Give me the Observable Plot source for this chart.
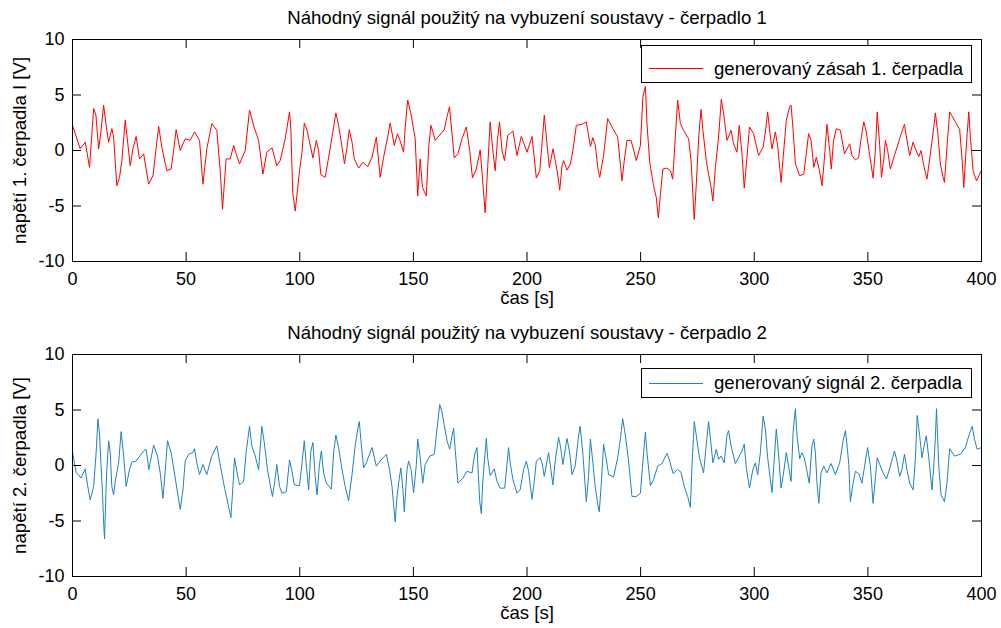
<!DOCTYPE html>
<html>
<head>
<meta charset="utf-8">
<script src="https://cdn.jsdelivr.net/npm/d3@7"></script>
<script src="https://cdn.jsdelivr.net/npm/@observablehq/plot@0.6"></script>
<style>
  html, body { margin: 0; padding: 0; background: #fff; }
  #wrap { position: relative; width: 1001px; height: 628px; font-family: "Liberation Sans", Arial, sans-serif; }
  .panel { position: absolute; left: 0; }
  .legend { position: absolute; background: #fff; border: 1px solid #000; box-sizing: border-box;
            font-size: 18.6px; display: flex; align-items: center; }
  .legend .swatch { width: 54px; height: 0; border-top: 1px solid; margin-left: 7px; margin-right: 11px; }
</style>
</head>
<body>
<div id="wrap"></div>
<script>
// ---------- data ----------
const titles = ["Náhodný signál použitý na vybuzení soustavy - čerpadlo 1",
                "Náhodný signál použitý na vybuzení soustavy - čerpadlo 2"];
const yLabels = ["napětí 1. čerpadla I [V]", "napětí 2. čerpadla [V]"];
const xLabel = "čas [s]";
const legendLabels = ["generovaný zásah 1. čerpadla", "generovaný signál 2. čerpadla"];
const xTicks = [0, 50, 100, 150, 200, 250, 300, 350, 400];
const yTicks = [-10, -5, 0, 5, 10];

// pump 1 signal: time [s]
const t1 = [0.0,3.4,5.6,7.5,9.3,10.3,11.5,12.5,13.7,14.8,15.9,17.3,18.1,19.5,20.7,21.7,23.2,25.4,26.6,28.0,29.5,31.3,33.5,35.4,37.9,39.3,41.5,43.4,44.5,45.6,47.4,49.6,51.8,53.7,55.9,57.4,59.1,61.3,63.5,65.0,66.0,67.6,69.4,70.9,72.0,73.5,76.0,77.9,79.9,81.9,83.8,85.5,87.8,89.9,91.4,93.6,95.5,96.1,96.9,98.0,99.9,
  101.0,102.0,103.2,104.3,105.8,107.3,108.3,109.3,111.2,112.7,114.2,115.9,117.1,118.6,119.7,120.8,121.8,123.0,124.0,125.9,127.8,129.9,131.8,133.7,135.4,136.9,138.7,139.8,141.6,143.0,144.2,145.7,146.4,147.5,148.9,150.8,151.9,153.0,154.0,155.7,156.7,157.7,158.6,159.6,163.6,164.8,165.9,167.0,168.0,169.6,171.4,173.3,174.8,176.0,177.7,179.4,180.5,181.6,182.7,183.8,184.9,186.0,187.0,187.9,189.0,190.1,191.5,193.8,195.6,197.5,198.8,200.0,
  202.2,203.2,204.1,205.6,206.6,207.6,208.8,209.8,210.6,211.4,212.5,213.5,214.4,215.4,216.1,217.6,219.1,220.2,221.7,224.2,226.1,227.9,229.0,230.1,231.1,232.0,233.7,235.5,237.8,239.9,241.8,242.8,244.0,245.8,248.1,249.9,251.0,252.1,252.8,254.0,255.7,256.9,257.8,258.7,259.8,261.6,263.1,264.1,264.5,265.3,266.3,267.5,268.9,271.1,272.2,273.3,273.6,274.5,275.6,276.6,277.4,278.9,279.9,280.9,281.8,282.9,284.3,285.5,286.5,288.0,289.8,290.9,292.4,293.4,294.6,295.6,296.8,297.9,299.7,
  301.9,303.9,304.9,305.9,307.1,307.8,309.3,310.3,311.8,312.8,314.1,315.6,316.2,317.1,318.1,320.0,321.8,322.9,323.9,325.0,326.2,327.3,328.7,329.8,330.8,332.0,333.2,333.9,334.9,336.1,337.9,339.7,342.0,343.0,344.5,345.9,346.9,348.2,349.3,350.8,352.3,353.3,354.1,355.2,356.0,357.0,357.7,358.7,359.9,361.7,364.3,366.1,367.2,368.4,369.9,370.9,372.4,373.4,374.6,376.0,377.5,379.0,379.7,380.8,381.9,383.1,383.7,384.8,386.0,388.1,390.4,391.5,392.2,393.0,393.7,394.4,395.1,396.3,397.8,400.0];
// pump 1 signal: voltage [V]
const v1 = [2.27,0.15,0.76,-1.52,3.79,3.18,0.15,1.67,4.09,2.27,0.76,1.97,1.21,-3.18,-2.42,-0.91,2.73,-1.36,0.15,1.27,-0.76,-0.30,-3.03,-2.27,2.18,0.30,-1.82,-1.67,0.0,1.88,0.0,1.06,0.91,1.67,0.91,-3.03,0.15,2.42,1.82,-1.82,-5.3,-0.76,-0.76,0.45,-0.30,-1.21,0.0,3.64,2.12,0.91,-2.12,-0.15,0.24,-1.36,-0.91,1.06,3.48,1.82,-3.79,-5.45,-1.82,
  -0.15,2.48,1.82,0.76,-0.67,0.91,0.0,-2.18,-2.42,-0.61,1.21,3.39,2.27,0.30,-1.21,0.30,1.88,0.76,-0.76,-1.58,-1.06,-1.45,-0.61,1.21,-2.42,-0.61,1.21,2.48,0.45,1.52,0.85,-0.15,2.12,4.55,3.33,1.06,-4.09,-0.76,-3.33,-4.09,0.15,2.27,1.67,0.91,1.88,3.03,3.94,1.52,-0.67,-0.30,1.06,2.12,0.0,-2.48,-1.67,0.06,-2.73,-5.61,-1.52,2.58,0.15,-1.82,0.91,2.58,0.0,-0.91,1.36,1.76,-0.45,1.27,0.55,-0.15,
  1.27,-0.67,-2.48,-1.82,0.61,3.18,0.61,-1.52,-0.76,0.15,-0.97,-2.12,-3.58,-1.36,-0.91,-1.76,-1.21,0.0,2.27,2.36,2.58,0.36,1.15,0.45,-1.52,-2.42,-0.45,2.88,1.97,1.21,-2.73,-0.91,0.91,0.91,-0.91,0.45,4.85,5.76,2.42,-1.06,-3.18,-4.24,-6.06,-3.94,-1.67,-1.58,-1.82,-2.58,-1.36,1.36,4.55,2.42,1.82,1.06,-0.91,-5.15,-6.21,-3.03,1.36,3.70,1.82,-0.91,-2.12,-3.18,-4.55,-1.52,1.21,4.61,3.33,0.91,1.82,0.61,-0.15,2.27,-0.30,-3.39,-0.61,2.12,1.52,
  -0.45,0.30,1.67,3.48,1.21,0.15,1.67,0.45,-2.88,-0.45,2.73,3.94,4.09,1.82,-1.21,-2.27,-2.12,-0.30,1.52,0.91,-1.52,-0.61,-1.82,-3.18,-0.91,2.36,0.0,-1.67,0.91,1.97,1.82,-0.30,0.61,-0.45,-0.85,-0.67,0.91,2.58,1.67,-0.45,-2.48,0.0,3.48,0.45,-2.42,-0.76,0.91,0.0,-1.67,-0.45,1.27,2.36,0.91,-0.45,0.76,0.15,-0.55,0.0,-1.36,-2.58,-0.30,2.12,3.39,1.52,-1.21,-2.42,-2.88,0.30,3.48,2.73,1.88,-0.91,-3.33,-0.61,1.52,3.48,1.21,-1.82,-2.73,-1.76];

// pump 2 signal: time [s]
const t2 = [0.0,1.6,3.7,5.6,6.6,7.8,9.3,10.4,11.2,11.9,12.5,13.2,13.7,14.1,14.7,15.1,15.9,16.6,17.3,18.1,18.8,20.3,21.4,22.5,23.6,25.1,26.1,28.0,31.3,32.4,33.6,35.7,37.4,38.6,39.8,40.8,41.8,43.4,45.2,47.4,48.6,49.6,51.1,53.0,53.7,54.7,55.9,57.4,59.1,61.3,63.5,64.7,66.5,67.9,69.7,70.6,71.3,72.3,73.5,75.3,76.4,77.9,78.9,80.4,81.9,83.3,84.4,85.8,87.0,88.0,89.2,89.9,91.1,92.2,94.1,95.5,96.6,97.6,99.9,
  101.0,102.0,102.8,103.9,104.9,105.8,106.8,107.6,108.6,109.5,110.5,111.7,113.9,114.9,115.9,117.1,118.6,120.0,121.5,123.0,124.4,125.5,126.2,127.0,128.1,129.3,131.8,133.7,135.4,138.1,139.5,140.6,142.0,142.8,143.8,144.5,145.4,146.0,147.2,147.9,149.0,150.1,151.3,151.9,153.0,154.1,155.2,157.2,159.2,160.4,161.6,162.6,163.6,164.8,166.0,167.0,167.7,168.4,169.6,171.8,173.6,175.8,176.5,177.2,178.0,179.2,179.9,180.6,182.1,182.7,183.8,185.6,186.8,188.2,190.2,191.9,192.6,193.8,195.6,197.0,198.5,199.7,200.7,
  202.2,203.2,204.1,205.8,206.6,207.6,208.8,209.5,210.5,211.4,212.5,213.9,214.7,215.8,217.6,218.8,219.8,221.2,222.7,223.4,224.6,226.1,227.1,227.9,229.0,230.0,231.1,231.8,232.7,233.7,234.9,235.9,238.1,239.9,241.1,242.1,243.3,244.7,246.2,248.1,249.9,251.3,252.1,252.8,254.3,255.7,257.5,259.4,261.6,262.8,264.3,266.3,267.8,269.2,270.7,271.9,272.6,273.6,274.5,275.9,277.7,278.9,279.9,280.9,281.8,283.3,284.3,285.4,286.8,288.0,288.7,289.8,291.7,294.6,295.6,296.5,297.9,299.4,300.5,301.5,302.7,
  303.9,304.9,305.9,307.1,307.8,308.8,309.7,310.7,311.8,312.9,314.1,315.1,316.2,317.1,318.1,318.8,320.0,321.0,322.0,323.2,324.2,325.4,326.2,326.9,327.6,328.4,329.4,330.6,332.0,333.8,335.7,337.6,339.1,340.1,340.8,341.6,342.3,343.5,344.5,346.0,347.4,348.9,349.9,351.1,352.3,353.3,354.1,355.2,356.7,358.2,359.9,361.7,362.8,364.0,365.0,366.1,367.2,368.4,369.9,370.9,371.7,372.8,373.8,374.9,375.7,376.8,378.2,379.0,379.7,380.2,381.2,382.2,383.7,384.8,386.0,388.1,390.7,392.9,394.4,395.9,396.9,398.1,400.0];
// pump 2 signal: voltage [V]
const v2 = [1.22,-0.61,-1.13,-0.30,-1.74,-3.11,-1.89,1.16,4.21,2.84,0.24,-2.50,-5.09,-6.62,-2.50,-0.37,2.23,1.16,-1.89,-2.65,-1.43,0.24,3.05,0.85,-1.89,-0.37,0.30,0.40,1.31,1.46,-0.37,1.83,0.85,-0.67,-2.96,-0.52,2.23,1.16,-1.13,-3.96,-2.20,0.40,1.01,1.16,1.52,0.24,-0.82,0.09,-0.82,0.85,1.77,0.40,-1.59,-2.96,-4.70,-1.89,0.70,-0.52,-1.74,-1.43,1.16,3.54,1.77,0.85,-0.37,3.54,2.07,-0.37,-1.74,-2.80,-1.13,0.09,-1.89,-2.50,-2.35,0.49,-0.52,-1.74,-1.83,
  0.24,2.23,0.24,-2.20,1.31,2.07,-0.98,-2.65,-0.06,1.31,-0.67,-1.59,-2.13,1.16,2.74,1.62,-0.37,-1.89,-3.17,-0.82,1.77,3.29,3.96,2.07,-0.21,0.24,1.62,-0.06,0.40,1.01,-0.37,-1.89,-5.09,-2.80,-1.13,-0.21,-2.20,-4.18,-0.37,0.40,-0.37,-2.44,0.09,2.38,0.70,-1.59,0.09,0.85,1.01,3.29,5.49,4.82,3.60,2.23,1.46,2.68,3.35,1.46,-1.59,-1.13,-0.52,-0.67,0.40,1.16,1.62,-3.26,-4.33,-1.28,2.44,0.70,-0.91,-0.30,-1.43,-2.04,-2.04,1.62,0.24,-1.28,-2.50,-2.20,-0.37,0.40,-0.52,
  -3.05,-1.43,0.40,0.70,0.24,-0.98,0.40,1.16,-0.37,-1.74,0.55,2.53,1.77,0.09,2.44,1.16,-0.82,-0.06,2.68,3.54,1.01,-3.26,-0.98,2.38,0.24,-1.89,-3.41,-4.18,-1.59,1.92,0.55,-0.82,-1.04,0.70,2.38,4.21,2.68,0.40,-2.80,-2.80,-2.50,1.16,2.99,1.16,-1.83,-1.28,-0.06,0.18,1.10,0.40,-0.73,-0.37,-0.61,-1.89,-2.80,-3.78,-0.06,3.96,2.68,0.70,-0.67,1.92,3.96,2.07,0.24,1.46,0.55,0.85,0.24,2.74,3.14,1.77,0.18,1.31,1.92,-0.21,-2.04,-0.37,0.24,-0.82,1.16,
  4.45,3.29,0.70,-1.28,-2.44,0.55,3.29,1.01,-2.04,-0.67,1.16,-0.06,-1.43,2.99,5.12,2.68,0.61,1.16,0.70,-0.52,-1.59,1.77,2.38,1.16,-1.59,-3.41,-0.67,-0.06,-0.67,0.18,-0.82,0.24,2.23,3.14,1.92,0.09,-3.26,-1.59,-0.52,-0.73,-1.59,0.40,1.62,-0.06,-3.41,-1.13,0.70,0.09,-0.67,-1.22,-0.06,1.31,0.40,-0.98,-0.37,1.01,-0.37,-1.59,-2.20,0.55,4.51,2.68,0.70,1.92,2.68,0.70,-2.20,-0.06,2.53,5.12,-0.06,-2.65,-3.26,-1.59,1.52,0.85,1.01,1.62,2.68,3.54,2.38,1.46,1.62];

const colors = ["#ff0000", "#1f82be"];
const series = [
  {t: t1, v: v1},
  {t: t2, v: v2}
];

// ---------- layout ----------
const W = 1001, H = 314;
const layouts = [
  {top: 0, mt: 39, mb: 53, lgTop: 45, lgH: 38, lgPad: 9},
  {top: 314, mt: 40, mb: 52, lgTop: 368, lgH: 30, lgPad: 0}
];
const ML = 72, MR = 20, TICK = 9, FS = 18, FS2 = 18.6;
const wrap = document.getElementById("wrap");

series.forEach((s, i) => {
  const L = layouts[i];
  const data = s.t.map((t, k) => ({t, v: s.v[k]}));
  const innerH = H - L.mt - L.mb;
  const innerW = W - ML - MR;
  const chart = Plot.plot({
    width: W, height: H,
    marginLeft: ML, marginRight: MR, marginTop: L.mt, marginBottom: L.mb,
    style: {fontFamily: "'Liberation Sans', Arial, sans-serif", fontSize: FS + "px", background: "#fff", color: "#000"},
    x: {domain: [0, 400]},
    y: {domain: [-10, 10]},
    marks: [
      Plot.line(data, {x: "t", y: "v", stroke: colors[i], strokeWidth: 1}),
      Plot.tickX(xTicks, {x: d => d, insetTop: innerH - TICK, stroke: "#000"}),
      Plot.tickX(xTicks, {x: d => d, insetBottom: innerH - TICK, stroke: "#000"}),
      Plot.tickY(yTicks, {y: d => d, insetRight: innerW - TICK, stroke: "#000"}),
      Plot.tickY(yTicks, {y: d => d, insetLeft: innerW - TICK, stroke: "#000"}),
      Plot.frame({stroke: "#000"}),
      Plot.axisX(xTicks, {tickSize: 0, tickPadding: 11, tickFormat: d => String(d), label: null, fill: "#000"}),
      Plot.axisY(yTicks, {tickSize: 0, tickPadding: 8, tickFormat: d => String(d), label: null, fill: "#000"}),
      Plot.text([xLabel], {frameAnchor: "bottom", dy: 37, lineAnchor: "middle", fill: "#000", fontSize: FS2}),
      Plot.text([titles[i]], {frameAnchor: "top", dy: -21, lineAnchor: "middle", fill: "#000", fontSize: FS2}),
      Plot.text([yLabels[i]], {frameAnchor: "left", dx: -52, rotate: -90, textAnchor: "middle", lineAnchor: "middle", fill: "#000", fontSize: FS2})
    ]
  });
  const div = document.createElement("div");
  div.className = "panel";
  div.style.top = L.top + "px";
  div.appendChild(chart);
  wrap.appendChild(div);

  const lg = document.createElement("div");
  lg.className = "legend";
  lg.style.left = "641px";
  lg.style.top = L.lgTop + "px";
  lg.style.width = "331px";
  lg.style.height = L.lgH + "px";
  lg.style.paddingTop = L.lgPad + "px";
  const sw = document.createElement("span");
  sw.className = "swatch";
  sw.style.borderTopColor = colors[i];
  const tx = document.createElement("span");
  tx.textContent = legendLabels[i];
  lg.appendChild(sw);
  lg.appendChild(tx);
  wrap.appendChild(lg);
});
</script>
</body>
</html>
